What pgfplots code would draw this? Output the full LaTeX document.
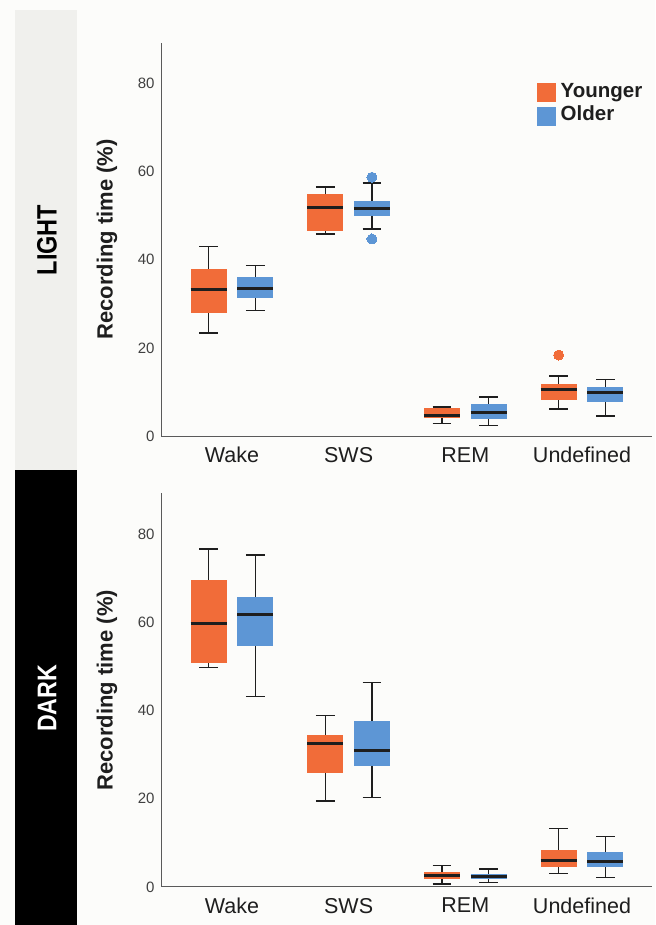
\documentclass[border=0pt]{standalone}
\usepackage{fontspec}
\setmainfont{Liberation Sans}
\usepackage{graphicx}
\usepackage{pgfplots}
\usepgfplotslibrary{statistics}
\pgfplotsset{compat=1.18}
\definecolor{orangeC}{RGB}{241,108,57}
\definecolor{blueC}{RGB}{93,150,213}
\definecolor{bgC}{RGB}{252,252,250}
\definecolor{panelC}{RGB}{240,240,237}
\definecolor{axisC}{RGB}{90,90,90}
\definecolor{txtC}{RGB}{30,30,30}
\pgfplotsset{
  myaxis/.style={
    scale only axis, width=491pt, height=393.5pt,
    xmin=-0.608, xmax=3.6, ymin=0, ymax=89.2,
    axis lines=left,
    every non boxed x axis/.append style={x axis line style={-}},
    every non boxed y axis/.append style={y axis line style={-}},
    axis line style={-, draw=axisC, line width=1pt},
    major tick length=0pt,
    xtick={0,1,2,3}, xticklabels={Wake,SWS,REM,Undefined},
    ytick={0,20,40,60,80},
    /pgf/number format/assume math mode=true,
    yticklabel style={font=\fontsize{15}{18}\selectfont, text=txtC!85, xshift=-3pt},
    xticklabel style={font=\fontsize{21.5}{24}\selectfont, text=txtC, yshift=-7.5pt},
    ylabel={Recording time (\%)},
    every axis y label/.style={at={(axis description cs:-0.110,0.5)}, rotate=90, anchor=center,
      font=\bfseries\fontsize{22}{26}\selectfont, text=txtC},
    clip=false,
  },
  bxcommon/.style={forget plot, boxplot/draw direction=y,
    boxplot/box extend=0.31, boxplot/whisker extend=0.16,
    boxplot/every whisker/.style={draw=txtC, line width=1.5pt},
    boxplot/every median/.style={draw=txtC, line width=3pt},
    mark=*, mark size=5pt},
  yng/.style={bxcommon, color=orangeC,
    boxplot/every box/.style={draw=none, fill=orangeC},
    mark options={draw=orangeC, fill=orangeC, line width=0pt}},
  old/.style={bxcommon, color=blueC,
    boxplot/every box/.style={draw=none, fill=blueC},
    mark options={draw=blueC, fill=blueC, line width=0pt}},
}
\begin{document}
\begin{tikzpicture}
\path[use as bounding box, fill=bgC] (0pt,0pt) rectangle (655pt,925pt);
\fill[panelC] (15pt,455pt) rectangle (77pt,915pt);
\fill[black] (15pt,0pt) rectangle (77pt,455pt);
\node[rotate=90, inner sep=0pt, text=black, font=\bfseries\fontsize{28}{30}\selectfont] at (47pt,685pt) {\scalebox{0.84}[1]{LIGHT}};
\node[rotate=90, inner sep=0pt, text=white, font=\bfseries\fontsize{27}{30}\selectfont] at (47pt,226.7pt) {\scalebox{0.86}[1]{DARK}};

% LIGHT
\begin{axis}[myaxis, at={(161pt,488.8pt)}, anchor=south west,
  legend style={at={(axis description cs:0.766,0.897)}, anchor=north west, draw=none, fill=none,
    inner sep=0pt, row sep=5pt, column sep=4pt,
    font=\bfseries\fontsize{20.5}{24}\selectfont, text=txtC,
    nodes={inner sep=1pt, text height=0.75em, text depth=0.22em}},
  legend cell align=left]
\addlegendimage{legend image code/.code={\fill[orangeC] (0pt,-7pt) rectangle (18pt,11pt);}}
\addlegendentry{Younger}
\addlegendimage{legend image code/.code={\fill[blueC] (0pt,-7pt) rectangle (18pt,11pt);}}
\addlegendentry{Older}
\addplot[yng, boxplot prepared={draw position=-0.2, lower whisker=23.4, lower quartile=27.9, median=33.2, upper quartile=37.9, upper whisker=43.0}] coordinates {};
\addplot[old, boxplot prepared={draw position=0.2, lower whisker=28.5, lower quartile=31.3, median=33.4, upper quartile=36.1, upper whisker=38.7}] coordinates {};
\addplot[yng, boxplot prepared={draw position=0.8, lower whisker=45.8, lower quartile=46.6, median=51.8, upper quartile=54.9, upper whisker=56.5}] coordinates {};
\addplot[old, boxplot prepared={draw position=1.2, lower whisker=47.0, lower quartile=50.0, median=51.5, upper quartile=53.4, upper whisker=57.4}] coordinates {(1.2,58.7) (1.2,44.7)};
\addplot[yng, boxplot prepared={draw position=1.8, lower whisker=2.9, lower quartile=4.1, median=4.6, upper quartile=6.3, upper whisker=6.65}] coordinates {};
\addplot[old, boxplot prepared={draw position=2.2, lower whisker=2.4, lower quartile=3.9, median=5.4, upper quartile=7.2, upper whisker=8.9}] coordinates {};
\addplot[yng, boxplot prepared={draw position=2.8, lower whisker=6.2, lower quartile=8.2, median=10.6, upper quartile=11.9, upper whisker=13.7}] coordinates {(2.8,18.4)};
\addplot[old, boxplot prepared={draw position=3.2, lower whisker=4.6, lower quartile=7.7, median=10.0, upper quartile=11.1, upper whisker=12.8}] coordinates {};
\end{axis}

% DARK
\begin{axis}[myaxis, at={(161pt,38pt)}, anchor=south west]
\addplot[yng, boxplot prepared={draw position=-0.2, lower whisker=49.7, lower quartile=50.8, median=59.8, upper quartile=69.6, upper whisker=76.6}] coordinates {};
\addplot[old, boxplot prepared={draw position=0.2, lower whisker=43.2, lower quartile=54.6, median=61.7, upper quartile=65.7, upper whisker=75.3}] coordinates {};
\addplot[yng, boxplot prepared={draw position=0.8, lower whisker=19.5, lower quartile=25.8, median=32.6, upper quartile=34.5, upper whisker=38.9}] coordinates {};
\addplot[old, boxplot prepared={draw position=1.2, lower whisker=20.3, lower quartile=27.5, median=30.9, upper quartile=37.6, upper whisker=46.4}] coordinates {};
\addplot[yng, boxplot prepared={draw position=1.8, lower whisker=0.7, lower quartile=1.9, median=2.5, upper quartile=3.4, upper whisker=4.9}] coordinates {};
\addplot[old, boxplot prepared={draw position=2.2, lower whisker=1.0, lower quartile=1.9, median=2.4, upper quartile=2.9, upper whisker=4.1}] coordinates {};
\addplot[yng, boxplot prepared={draw position=2.8, lower whisker=3.1, lower quartile=4.6, median=6.0, upper quartile=8.3, upper whisker=13.3}] coordinates {};
\addplot[old, boxplot prepared={draw position=3.2, lower whisker=2.1, lower quartile=4.6, median=5.7, upper quartile=7.9, upper whisker=11.5}] coordinates {};
\end{axis}
\end{tikzpicture}
\end{document}
